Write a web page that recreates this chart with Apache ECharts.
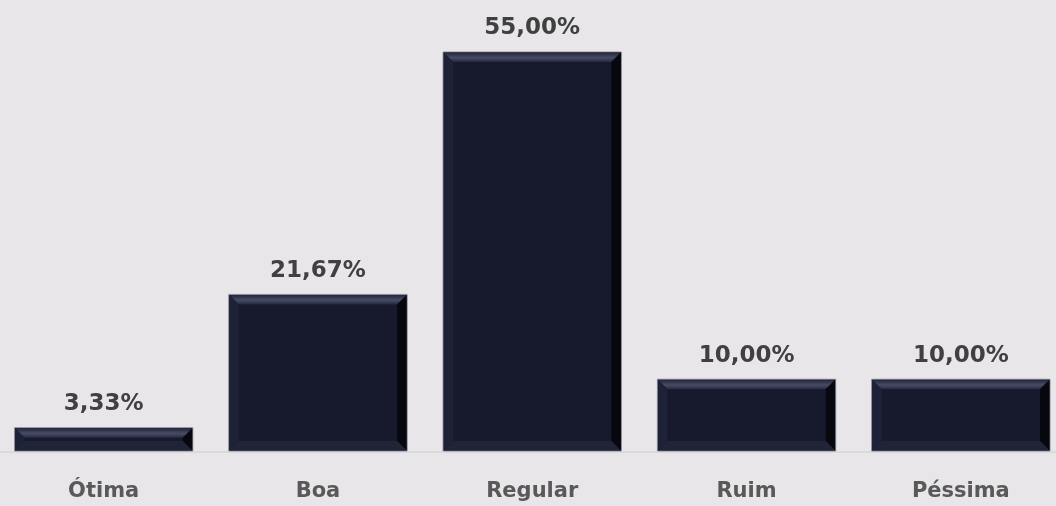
<!DOCTYPE html>
<html><head><meta charset="utf-8">
<script src="https://cdn.jsdelivr.net/npm/echarts@6/dist/echarts.min.js"></script>
<style>html,body{margin:0;padding:0;background:#E8E6E9;}#c{width:1056px;height:506px;}</style>
</head><body><div id="c"></div>
<script>
const categories = ['Ótima', 'Boa', 'Regular', 'Ruim', 'Péssima'];
const values = [3.33, 21.67, 55.00, 10.00, 10.00];

const chart = echarts.init(document.getElementById('c'));
const FONT = '"DejaVu Sans", sans-serif';
function fmt(v){ return v.toFixed(2).replace('.', ',') + '%'; }

chart.setOption({
  backgroundColor: '#E8E6E9',
  animation: false,
  grid: { left: -3.5, right: -12, top: 52, bottom: 54, containLabel: false, outerBoundsMode: 'none' },
  xAxis: {
    type: 'category', data: categories,
    axisLine: { show: true, lineStyle: { color: '#D6D4D7', width: 1.5 } },
    axisTick: { show: false },
    axisLabel: { color: '#595959', fontSize: 21, fontWeight: 'bold', fontFamily: FONT, margin: 29 }
  },
  yAxis: { type: 'value', min: 0, max: 55, show: false, splitLine: { show: false } },
  series: [{
    type: 'custom',
    data: values.map((v, i) => [i, v]),
    renderItem: function (params, api) {
      const top = api.coord([api.value(0), api.value(1)]);
      const base = api.coord([api.value(0), 0]);
      const w = api.size([1, 0])[0] * 0.832;
      const x0 = top[0] - w / 2, x1 = top[0] + w / 2, y0 = top[1], y1 = base[1] - 1;
      const b = Math.min(10, (y1 - y0) / 2);
      return {
        type: 'group',
        children: [
          { type: 'rect', shape: { x: x0, y: y0, width: w, height: y1 - y0 },
            style: { fill: '#171A2D', stroke: '#8E8E9A', lineWidth: 1 } },
          { type: 'polygon', shape: { points: [[x0+0.5, y0+0.5], [x1-0.5, y0+0.5], [x1 - b, y0 + b], [x0 + b, y0 + b]] },
            style: { fill: new echarts.graphic.LinearGradient(0, 0, 0, 1, [
              { offset: 0, color: '#22263B' }, { offset: 0.55, color: '#474C65' }, { offset: 1, color: '#262A40' }]) } },
          { type: 'polygon', shape: { points: [[x0+0.5, y0+0.5], [x0 + b, y0 + b], [x0 + b, y1 - b], [x0+0.5, y1-0.5]] },
            style: { fill: '#1E2236' } },
          { type: 'polygon', shape: { points: [[x1-0.5, y0+0.5], [x1 - b, y0 + b], [x1 - b, y1 - b], [x1-0.5, y1-0.5]] },
            style: { fill: '#07080F' } },
          { type: 'polygon', shape: { points: [[x0+0.5, y1-0.5], [x0 + b, y1 - b], [x1 - b, y1 - b], [x1-0.5, y1-0.5]] },
            style: { fill: '#202437' } },
          { type: 'text', style: { x: top[0], y: y0 - 12, text: fmt(api.value(1)), textAlign: 'center', textVerticalAlign: 'bottom',
            fill: '#404040', font: 'bold 23px ' + FONT } }
        ]
      };
    }
  }]
});
</script></body></html>
